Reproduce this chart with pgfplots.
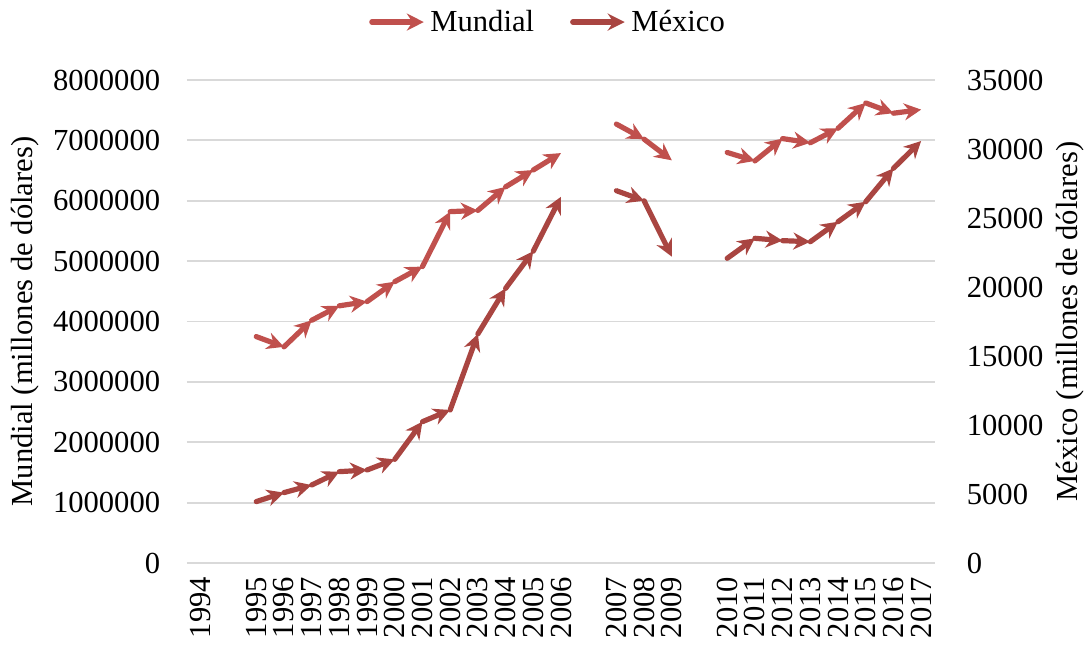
\documentclass[border=0pt]{standalone}
\usepackage{fontspec}
\setmainfont{Liberation Serif}
\usepackage{pgfplots}
\pgfplotsset{compat=1.18}
\usepackage{pgfplotstable}
\usetikzlibrary{arrows.meta}
\definecolor{mundialcol}{HTML}{C0504D}
\definecolor{mexcol}{HTML}{A94541}
\definecolor{gridcol}{HTML}{D9D9D9}
\newcommand\f{\fontsize{15.3pt}{18pt}\selectfont}

% Mundial: segments (x,y) -> (x2,y2); x = category position
\pgfplotstableread{
x y x2 y2
2 3750000 3 3580000
3 3580000 4 4020000
4 4020000 5 4260000
5 4260000 6 4330000
6 4330000 7 4660000
7 4660000 8 4910000
8 4910000 9 5820000
9 5820000 10 5840000
10 5840000 11 6230000
11 6230000 12 6510000
12 6510000 13 6790000
15 7270000 16 7020000
16 7020000 17 6670000
19 6800000 20 6660000
20 6660000 21 7030000
21 7030000 22 6960000
22 6960000 23 7200000
23 7200000 24 7620000
24 7620000 25 7450000
25 7450000 26 7510000
}\mundial

% Mexico
\pgfplotstableread{
x y x2 y2
2 4450 3 5100
3 5100 4 5650
4 5650 5 6620
5 6620 6 6740
6 6740 7 7510
7 7510 8 10240
8 10240 9 11090
9 11090 10 16600
10 16600 11 19900
11 19900 12 22600
12 22600 13 26540
15 26980 16 26250
16 26250 17 22200
19 22080 20 23530
20 23530 21 23360
21 23360 22 23280
22 23280 23 24730
23 24730 24 26180
24 26180 25 28600
25 28600 26 30580
}\mexico

\tikzset{arr/.style={line width=2.6pt, line cap=round, line join=round, -{Stealth[length=8.5pt,width=8.5pt,inset=2.8pt]}}}

\begin{document}
\begin{tikzpicture}
\useasboundingbox (-93.5pt,-41pt) rectangle (451pt,281.5pt);
\begin{axis}[
  at={(0,0)}, anchor=south west, scale only axis,
  width=374pt, height=241.5pt,
  xmin=-0.5, xmax=26.5, ymin=0, ymax=8000000,
  axis x line*=bottom, axis y line*=left,
  axis line style={draw=none},
  major tick style={draw=none},
  xtick={0,2,3,4,5,6,7,8,9,10,11,12,13,15,16,17,19,20,21,22,23,24,25,26},
  xticklabels={1994,1995,1996,1997,1998,1999,2000,2001,2002,2003,2004,2005,2006,2007,2008,2009,2010,2011,2012,2013,2014,2015,2016,2017},
  xticklabel style={rotate=90, anchor=east, font=\f},
  xticklabel shift=3.5pt,
  ytick={0,1000000,2000000,3000000,4000000,5000000,6000000,7000000,8000000},
  yticklabels={0,1000000,2000000,3000000,4000000,5000000,6000000,7000000,8000000},
  yticklabel style={font=\f, xshift=-9.9pt},
  scaled y ticks=false,
  /pgf/number format/assume math mode=true,
  ymajorgrids, grid style={gridcol, line width=0.9pt},
  every axis y label/.style={at={(axis description cs:-0.2166,0.5)}, rotate=90, anchor=center, font=\f},
  ylabel={Mundial (millones de dólares)},
  legend style={draw=none, fill=none, font=\f, at={(axis description cs:0.484,1.12)}, anchor=center,
    /tikz/every even column/.append style={column sep=16pt}},
  legend columns=2,
]
\addlegendimage{legend image code/.code={\draw[mundialcol, arr] (0pt,0pt) -- (26pt,0pt);}}
\addlegendentry{Mundial}
\addlegendimage{legend image code/.code={\draw[mexcol, arr] (0pt,0pt) -- (26pt,0pt);}}
\addlegendentry{México}
\addplot[mundialcol, arr, forget plot,
  quiver={u=\thisrow{x2}-\thisrow{x}, v=\thisrow{y2}-\thisrow{y}}]
  table[x=x, y=y] {\mundial};
\end{axis}
\begin{axis}[
  at={(0,0)}, anchor=south west, scale only axis,
  width=374pt, height=241.5pt,
  xmin=-0.5, xmax=26.5, ymin=0, ymax=35000,
  axis x line=none, axis y line*=right,
  axis line style={draw=none},
  major tick style={draw=none},
  ytick={0,5000,10000,15000,20000,25000,30000,35000},
  yticklabels={0,5000,10000,15000,20000,25000,30000,35000},
  yticklabel style={font=\f, xshift=12.4pt},
  scaled y ticks=false,
  /pgf/number format/assume math mode=true,
  every axis y label/.style={at={(axis description cs:1.1805,0.5)}, rotate=90, anchor=center, font=\f},
  ylabel={México (millones de dólares)},
]
\addplot[mexcol, arr, forget plot,
  quiver={u=\thisrow{x2}-\thisrow{x}, v=\thisrow{y2}-\thisrow{y}}]
  table[x=x, y=y] {\mexico};
\end{axis}
\end{tikzpicture}
\end{document}
